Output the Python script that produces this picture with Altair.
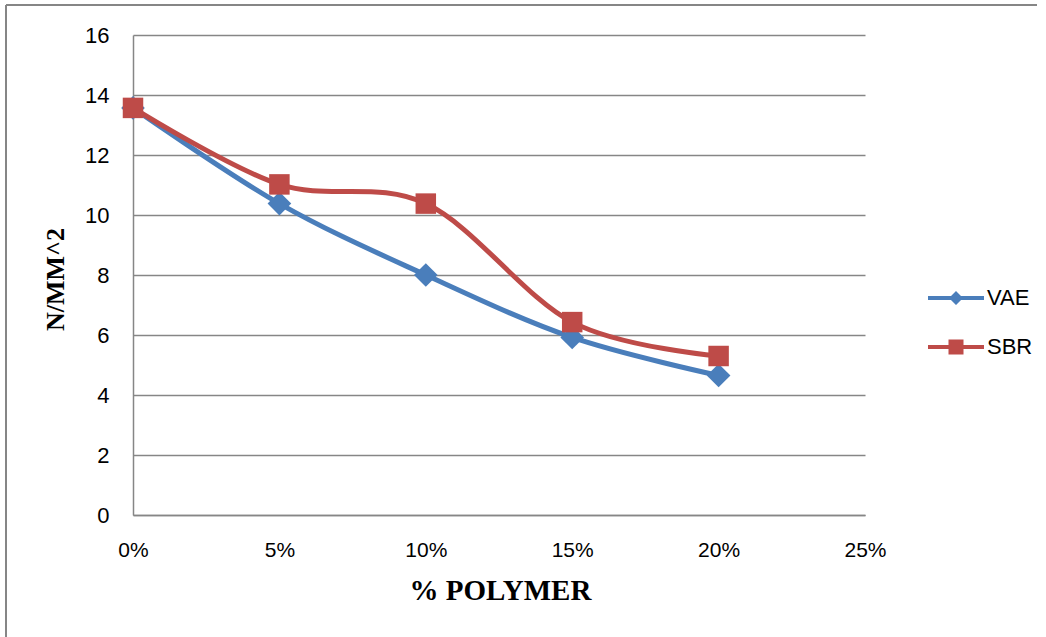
import altair as alt
import pandas as pd

# Percent polymer added, and strength (N/mm^2) for each polymer type
polymer_pct = [0.00, 0.05, 0.10, 0.15, 0.20]
vae_values = [13.57, 10.38, 8.00, 5.92, 4.65]
sbr_values = [13.57, 11.02, 10.38, 6.43, 5.30]
series_names = ["VAE", "SBR"]
series_colors = ["#4A7EBB", "#BE4B48"]
y_ticks = [0, 2, 4, 6, 8, 10, 12, 14, 16]
x_ticks = [0.00, 0.05, 0.10, 0.15, 0.20, 0.25]

rows = []
for name, vals in zip(series_names, [vae_values, sbr_values]):
    for p, v in zip(polymer_pct, vals):
        rows.append({"pct": p, "value": v, "series": name})
df = pd.DataFrame(rows)

GRID = "#868686"

x_enc = alt.X(
    "pct:Q",
    scale=alt.Scale(domain=[0, 0.25], nice=False),
    axis=alt.Axis(
        values=x_ticks, format=".0%", grid=False, ticks=False,
        domainColor=GRID, domainWidth=1.5,
        labelFont="Liberation Sans", labelFontSize=21, labelColor="#000",
        labelPadding=24, labelFlush=False,
        title="% POLYMER", titleFont="Liberation Serif", titleFontSize=29,
        titleFontWeight="bold", titleColor="#000",
        titleX=367, titleY=75, titleBaseline="middle", titleAnchor="middle"
    ),
)
y_enc = alt.Y(
    "value:Q",
    scale=alt.Scale(domain=[0, 16], nice=False),
    axis=alt.Axis(
        values=y_ticks, grid=True, gridColor=GRID, gridWidth=1.3, ticks=False,
        domainColor=GRID, domainWidth=1.5,
        labelFont="Liberation Sans", labelFontSize=22, labelColor="#000",
        labelPadding=24,
        title="N/MM^2", titleFont="Liberation Serif", titleFontSize=26,
        titleFontWeight="bold", titleColor="#000",
        titleX=-78, titleY=244, titleBaseline="middle", titleAnchor="middle",
        titleAngle=270
    ),
)

base = alt.Chart(df)


def series_layers(name, color, shape, size):
    sub = base.transform_filter(alt.datum.series == name)
    line = sub.mark_line(interpolate="cardinal", strokeWidth=5, color=color).encode(
        x=x_enc, y=y_enc
    )
    pts = sub.mark_point(shape=shape, filled=True, size=size, opacity=1, color=color).encode(
        x="pct:Q", y="value:Q"
    )
    return [line, pts]


# Legend symbols: a short line with the series marker in the middle
vae_sym = "M-2.8,-0.2L2.8,-0.2L2.8,0.2L-2.8,0.2Z M-0.7,0L0,-0.7L0.7,0L0,0.7Z"
sbr_sym = "M-2.8,-0.2L2.8,-0.2L2.8,0.2L-2.8,0.2Z M-0.75,-0.75L0.75,-0.75L0.75,0.75L-0.75,0.75Z"

# Layer that only carries the legend (its rows are filtered away)
legend_layer = base.transform_filter(alt.datum.pct < 0).mark_point(
    filled=True, size=400, opacity=1
).encode(
    x="pct:Q", y="value:Q",
    color=alt.Color(
        "series:N", scale=alt.Scale(domain=series_names, range=series_colors),
        legend=alt.Legend(
            title=None, orient="none", legendX=812, legendY=252,
            symbolSize=400, symbolStrokeWidth=0, symbolOpacity=1,
            labelFont="Liberation Sans", labelFontSize=22, labelColor="#000",
            labelOffset=20, rowPadding=27, padding=0,
        ),
    ),
    shape=alt.Shape("series:N", scale=alt.Scale(domain=series_names, range=[vae_sym, sbr_sym])),
)

# Outer frame lines (top and left edges)
frame_top = alt.Chart(alt.Data(values=[{}])).mark_rule(color=GRID, strokeWidth=2).encode(
    x=alt.value(-127), x2=alt.value(904), y=alt.value(-30)
)
frame_left = alt.Chart(alt.Data(values=[{}])).mark_rule(color=GRID, strokeWidth=2).encode(
    x=alt.value(-127), y=alt.value(-30), y2=alt.value(610)
)

chart = alt.layer(
    *series_layers("VAE", series_colors[0], "diamond", 560),
    *series_layers("SBR", series_colors[1], "square", 420),
    legend_layer, frame_top, frame_left
).properties(
    width=732, height=480,
    autosize=alt.AutoSizeParams(type="none"),
    padding={"left": 133, "top": 35, "right": 181, "bottom": 122},
    background="white",
).configure_view(stroke=None)

chart.save("out.html", embed_options={"renderer": "svg", "actions": False})
